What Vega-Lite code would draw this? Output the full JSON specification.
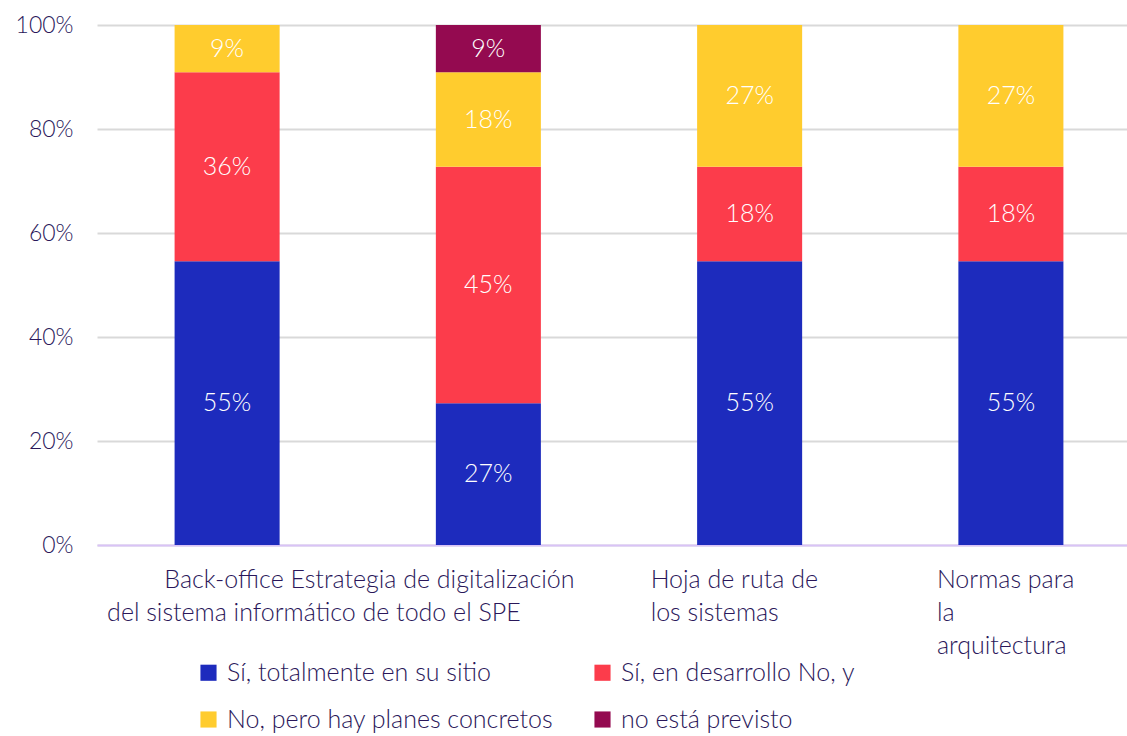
{
  "$schema": "https://vega.github.io/schema/vega-lite/v6.json",
  "width": 1044,
  "height": 520,
  "padding": {"left": 5, "top": 14, "right": 5, "bottom": 5},
  "config": {
    "view": {"stroke": null},
    "font": "Lato",
    "text": {"font": "Lato"}
  },
  "data": {
    "values": [
      {"cat": "Back-office del sistema informático", "resp": "Sí, totalmente en su sitio", "ord": 1, "value": 0.5455},
      {"cat": "Back-office del sistema informático", "resp": "Sí, en desarrollo No, y", "ord": 2, "value": 0.3636},
      {"cat": "Back-office del sistema informático", "resp": "No, pero hay planes concretos", "ord": 3, "value": 0.0909},
      {"cat": "Estrategia de digitalización de todo el SPE", "resp": "Sí, totalmente en su sitio", "ord": 1, "value": 0.2727},
      {"cat": "Estrategia de digitalización de todo el SPE", "resp": "Sí, en desarrollo No, y", "ord": 2, "value": 0.4545},
      {"cat": "Estrategia de digitalización de todo el SPE", "resp": "No, pero hay planes concretos", "ord": 3, "value": 0.1818},
      {"cat": "Estrategia de digitalización de todo el SPE", "resp": "no está previsto", "ord": 4, "value": 0.0909},
      {"cat": "Hoja de ruta de los sistemas", "resp": "Sí, totalmente en su sitio", "ord": 1, "value": 0.5455},
      {"cat": "Hoja de ruta de los sistemas", "resp": "Sí, en desarrollo No, y", "ord": 2, "value": 0.1818},
      {"cat": "Hoja de ruta de los sistemas", "resp": "No, pero hay planes concretos", "ord": 3, "value": 0.2727},
      {"cat": "Normas para la arquitectura", "resp": "Sí, totalmente en su sitio", "ord": 1, "value": 0.5455},
      {"cat": "Normas para la arquitectura", "resp": "Sí, en desarrollo No, y", "ord": 2, "value": 0.1818},
      {"cat": "Normas para la arquitectura", "resp": "No, pero hay planes concretos", "ord": 3, "value": 0.2727}
    ]
  },
  "encoding": {
    "x": {
      "field": "cat",
      "type": "nominal",
      "sort": null,
      "scale": {"paddingInner": 0.598, "paddingOuter": 0.297},
      "axis": {
        "title": null,
        "ticks": false,
        "domainColor": "#D9C3F7",
        "domainWidth": 2,
        "labelAngle": 0,
        "labelFontSize": 25,
        "labelFontWeight": 300,
        "labelColor": "#2A175A",
        "labelPadding": 22,
        "labelLineHeight": 33,
        "labelOverlap": false,
        "labelBound": false,
        "labelLimit": 0,
        "labelAlign": "left",
        "labelExpr": "datum.value == 'Back-office del sistema informático' ? ['', 'del sistema informático de todo el SPE'] : datum.value == 'Estrategia de digitalización de todo el SPE' ? ['Back-office Estrategia de digitalización'] : datum.value == 'Hoja de ruta de los sistemas' ? ['Hoja de ruta de', 'los sistemas'] : ['Normas para', '\u00a0la', '\u00a0arquitectura']",
        "labelOffset": {
          "condition": [
            {"test": "datum.value == 'Back-office del sistema informático'", "value": -120},
            {"test": "datum.value == 'Estrategia de digitalización de todo el SPE'", "value": -324},
            {"test": "datum.value == 'Hoja de ruta de los sistemas'", "value": -99}
          ],
          "value": -74
        }
      }
    },
    "y": {
      "field": "value",
      "type": "quantitative",
      "stack": "zero",
      "scale": {"domain": [0, 1]},
      "axis": {
        "title": null,
        "format": ".0%",
        "values": [0, 0.2, 0.4, 0.6, 0.8, 1],
        "ticks": false,
        "domain": false,
        "gridColor": "#D9D9D9",
        "gridWidth": 2,
        "labelFontSize": 23,
        "labelFontWeight": 300,
        "labelColor": "#2A175A",
        "labelPadding": 24,
        "minExtent": 92,
        "maxExtent": 92
      }
    },
    "order": {"field": "ord", "type": "quantitative"}
  },
  "layer": [
    {
      "mark": {"type": "bar"},
      "encoding": {
        "color": {
          "field": "resp",
          "type": "nominal",
          "scale": {
            "domain": ["Sí, totalmente en su sitio", "Sí, en desarrollo No, y", "No, pero hay planes concretos", "no está previsto"],
            "range": ["#1D2BBD", "#FC3C4B", "#FFCC2E", "#940A50"]
          },
          "legend": {
            "title": null,
            "orient": "none",
            "legendX": 99,
            "legendY": 635,
            "direction": "horizontal",
            "columns": 2,
            "columnPadding": 36,
            "rowPadding": 21,
            "symbolType": "square",
            "symbolSize": 260,
            "symbolStrokeWidth": 0,
            "labelFontSize": 25,
            "labelFontWeight": 300,
            "labelColor": "#2A175A",
            "labelOffset": 6,
            "labelLimit": 0
          }
        }
      }
    },
    {
      "mark": {"type": "text", "fontSize": 25, "fontWeight": 300, "color": "#FFFFFF", "baseline": "middle"},
      "encoding": {
        "y": {"field": "value", "type": "quantitative", "stack": "zero", "bandPosition": 0.5},
        "text": {"field": "value", "type": "quantitative", "format": ".0%"}
      }
    }
  ]
}
